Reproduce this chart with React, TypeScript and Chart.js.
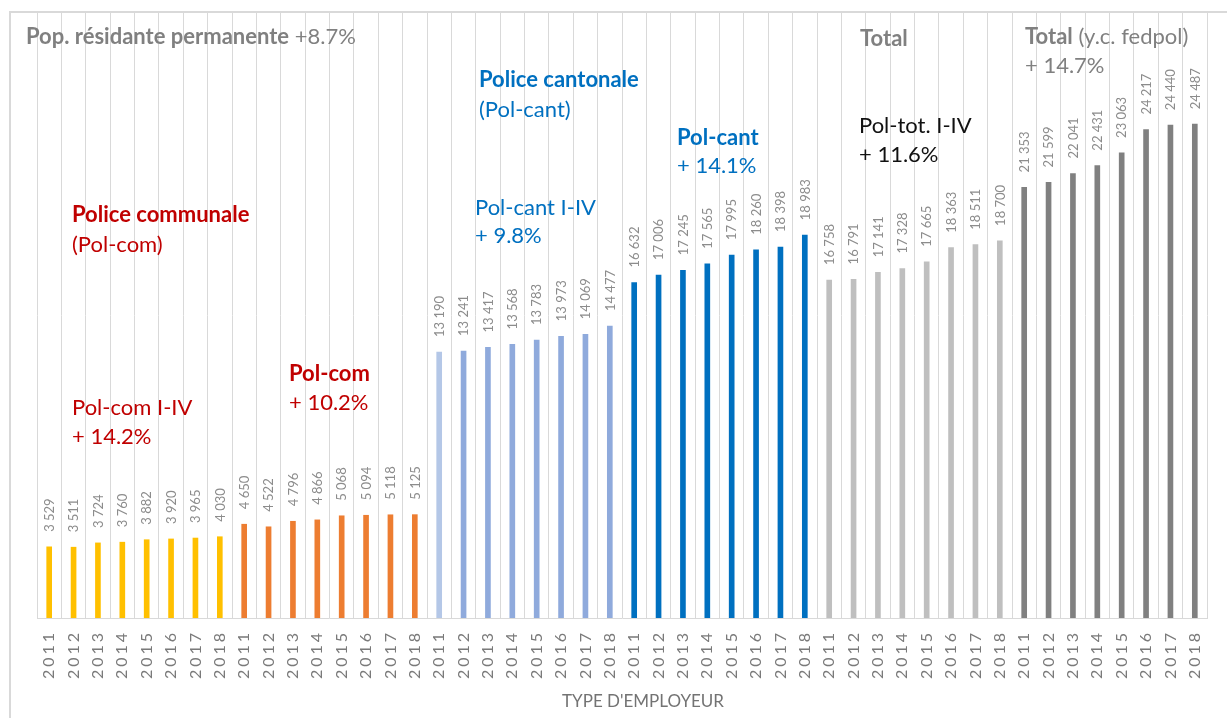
import { useEffect, useRef } from "react";
import { Chart, registerables } from "chart.js";

Chart.register(...registerables);

// ---------- data ----------
const years = ["2011", "2012", "2013", "2014", "2015", "2016", "2017", "2018"];
const polComI_IV = [3529, 3511, 3724, 3760, 3882, 3920, 3965, 4030];
const polCom = [4650, 4522, 4796, 4866, 5068, 5094, 5118, 5125];
const polCantI_IV = [13190, 13241, 13417, 13568, 13783, 13973, 14069, 14477];
const polCant = [16632, 17006, 17245, 17565, 17995, 18260, 18398, 18983];
const polTotI_IV = [16758, 16791, 17141, 17328, 17665, 18363, 18511, 18700];
const totalFedpol = [21353, 21599, 22041, 22431, 23063, 24217, 24440, 24487];

const groups = [polComI_IV, polCom, polCantI_IV, polCant, polTotI_IV, totalFedpol];
const groupColors = ["#FFC000", "#ED7D31", "#8FAADC", "#0070C0", "#BFBFBF", "#808080"];

const FONT = "Lato, 'Open Sans', sans-serif";
const RED = "#C00000";
const BLUE = "#0070C0";
const GRAY = "#808080";
const BLACK = "#111111";

type Run = [string, boolean];
const annotations: { x: number; y: number; color: string; runs: Run[] }[] = [
  { x: 26, y: 44, color: GRAY, runs: [["Pop. résidante permanente", true], [" +8.7%", false]] },
  { x: 72, y: 222, color: RED, runs: [["Police communale", true]] },
  { x: 72, y: 252, color: RED, runs: [["(Pol-com)", false]] },
  { x: 72, y: 415, color: RED, runs: [["Pol-com I-IV", false]] },
  { x: 72, y: 444, color: RED, runs: [["+ 14.2%", false]] },
  { x: 289, y: 381, color: RED, runs: [["Pol-com", true]] },
  { x: 289, y: 410, color: RED, runs: [["+ 10.2%", false]] },
  { x: 479, y: 87, color: BLUE, runs: [["Police cantonale", true]] },
  { x: 479, y: 117, color: BLUE, runs: [["(Pol-cant)", false]] },
  { x: 475, y: 215, color: BLUE, runs: [["Pol-cant I-IV", false]] },
  { x: 475, y: 243, color: BLUE, runs: [["+ 9.8%", false]] },
  { x: 677, y: 145, color: BLUE, runs: [["Pol-cant", true]] },
  { x: 677, y: 173, color: BLUE, runs: [["+ 14.1%", false]] },
  { x: 860, y: 46, color: GRAY, runs: [["Total", true]] },
  { x: 859, y: 133, color: BLACK, runs: [["Pol-tot. I-IV", false]] },
  { x: 859, y: 162, color: BLACK, runs: [["+ 11.6%", false]] },
  { x: 1025, y: 44, color: GRAY, runs: [["Total", true], [" (y.c. fedpol)", false]] },
  { x: 1025, y: 73, color: GRAY, runs: [["+ 14.7%", false]] },
];

const fmt = (n: number) => String(n).replace(/\B(?=(\d{3})+(?!\d))/g, " ");

export default function App() {
  const ref = useRef<HTMLCanvasElement | null>(null);

  useEffect(() => {
    if (!ref.current) return;
    const labels = groups.flatMap(() => years);
    const values = groups.flatMap((g) => g);
    const colors = groups.flatMap((g, gi) =>
      g.map((_, i) => (gi === 2 && i === 0 ? "#B4C7E7" : groupColors[gi]))
    );

    const frame = {
      id: "frame",
      beforeDraw(chart: any) {
        const ctx = chart.ctx;
        ctx.save();
        ctx.fillStyle = "#D9D9D9";
        ctx.fillRect(9, 11, 2, 718);
        ctx.fillRect(9, 11, 1227, 2);
        ctx.restore();
        ctx.letterSpacing = "3px";
      },
      beforeDatasetsDraw(chart: any) {
        chart.ctx.letterSpacing = "0px";
      },
      afterDatasetsDraw(chart: any) {
        const ctx = chart.ctx;
        const meta = chart.getDatasetMeta(0);
        ctx.save();
        ctx.fillStyle = "#8C8C8C";
        ctx.font = `13px ${FONT}`;
        ctx.textAlign = "left";
        ctx.textBaseline = "middle";
        meta.data.forEach((bar: any, i: number) => {
          const { x, y } = bar.getProps(["x", "y"], true);
          ctx.save();
          ctx.translate(x + 0.5, y - 15);
          ctx.rotate(-Math.PI / 2);
          ctx.fillText(fmt(values[i]), 0, 0);
          ctx.restore();
        });
        ctx.restore();
      },
      afterDraw(chart: any) {
        const ctx = chart.ctx;
        ctx.save();
        ctx.textBaseline = "alphabetic";
        ctx.textAlign = "left";
        for (const a of annotations) {
          let x = a.x;
          ctx.fillStyle = a.color;
          for (const [t, bold] of a.runs) {
            ctx.font = `${bold ? "bold " : ""}22px ${FONT}`;
            ctx.fillText(t, x, a.y);
            x += ctx.measureText(t).width;
          }
        }
        // axis title
        ctx.font = `17px ${FONT}`;
        ctx.fillStyle = "#737373";
        ctx.textAlign = "center";
        ctx.fillText("TYPE D'EMPLOYEUR", 643, 707);
        ctx.restore();
      },
    };

    const chart = new Chart(ref.current, {
      type: "bar",
      data: {
        labels,
        datasets: [
          {
            data: values,
            backgroundColor: colors,
            barThickness: 5,
          },
        ],
      },
      options: {
        animation: false,
        responsive: false,
        devicePixelRatio: 1,
        layout: { padding: { left: 37, right: 20, top: 13, bottom: 0 } },
        plugins: { legend: { display: false }, tooltip: { enabled: false } },
        scales: {
          x: {
            grid: { offset: true, color: "#D9D9D9", drawTicks: false },
            border: { color: "#D9D9D9" },
            ticks: {
              autoSkip: false,
              minRotation: 90,
              maxRotation: 90,
              padding: 12,
              color: "#7A7A7A",
              font: { family: FONT, size: 16 },
            },
            afterFit: (s: any) => {
              s.height = 100;
            },
          },
          y: { display: false, min: 0, max: 30000 },
        },
      },
      plugins: [frame],
    });
    return () => chart.destroy();
  }, []);

  return (
    <div style={{ position: "fixed", left: 0, top: 0, width: 1227, height: 718, background: "#fff" }}>
      <canvas ref={ref} width={1227} height={718} />
    </div>
  );
}
